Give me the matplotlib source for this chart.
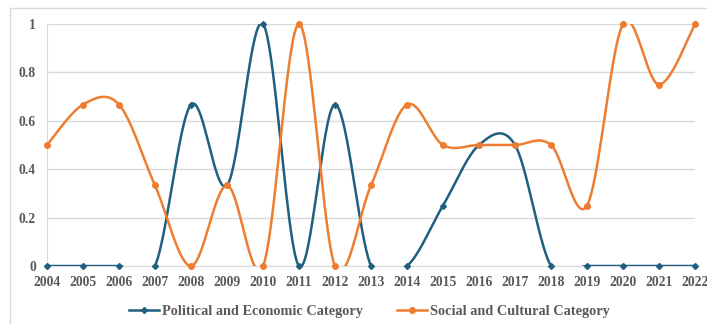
import numpy as np
import matplotlib.pyplot as plt
from matplotlib.patches import Rectangle

years = list(range(2004, 2023))
political_economic = [0, 0, 0, 0, 0.667, 0.333, 1, 0, 0.667, 0, 0, 0.25, 0.5, 0.5, 0, 0, 0, 0, 0]
social_cultural = [0.5, 0.667, 0.667, 0.333, 0, 0.333, 0, 1, 0, 0.333, 0.667, 0.5, 0.5, 0.5, 0.5, 0.25, 1, 0.75, 1]

blue = '#1f5f7f'
orange = '#ed7d31'
gray_text = '#595959'


def smooth(x, y, n=40):
    # cubic Bezier through the points with Catmull-Rom control points
    x = np.asarray(x, float)
    y = np.asarray(y, float)
    px = np.concatenate([[x[0]], x, [x[-1]]])
    py = np.concatenate([[y[0]], y, [y[-1]]])
    t = np.linspace(0, 1, n)[:, None]
    xs, ys = [], []
    for i in range(len(x) - 1):
        p0 = np.array([x[i], y[i]])
        p3 = np.array([x[i + 1], y[i + 1]])
        p1 = p0 + (np.array([px[i + 2], py[i + 2]]) - np.array([px[i], py[i]])) / 6
        p2 = p3 - (np.array([px[i + 3], py[i + 3]]) - np.array([px[i + 1], py[i + 1]])) / 6
        seg = ((1 - t) ** 3) * p0 + 3 * ((1 - t) ** 2) * t * p1 + 3 * (1 - t) * t ** 2 * p2 + t ** 3 * p3
        xs.append(seg[:, 0])
        ys.append(seg[:, 1])
    return np.concatenate(xs), np.concatenate(ys)


plt.rcParams['font.family'] = 'Liberation Serif'
plt.rcParams['font.weight'] = 'bold'

fig = plt.figure(figsize=(7.07, 3.24), dpi=100)
fig.patches.append(Rectangle((10 / 707, -0.1), 1.2, (316 + 32) / 324, transform=fig.transFigure,
                             facecolor='none', edgecolor='#d9d9d9', linewidth=1))
ax = fig.add_axes([47 / 707, 58 / 324, 648 / 707, 242 / 324])

for vals, col, mk, ms, label in [(political_economic, blue, 'D', 3, 'Political and Economic Category'),
                                 (social_cultural, orange, 'o', 4, 'Social and Cultural Category')]:
    sx, sy = smooth(years, vals)
    ax.plot(sx, sy, color=col, lw=1.8, zorder=3)
    ax.plot(years, vals, linestyle='none', marker=mk, ms=ms, color=col, zorder=4, clip_on=False)
    ax.plot([], [], color=col, lw=1.8, marker=mk, ms=ms, label=label)

ax.set_xlim(2004, 2022)
ax.set_ylim(0, 1)
ax.set_xticks(years)
ax.set_yticks([0, 0.2, 0.4, 0.6, 0.8, 1])
ax.set_yticklabels(['0', '0.2', '0.4', '0.6', '0.8', '1'])
ax.tick_params(length=0, labelsize=9.8, labelcolor=gray_text)
ax.tick_params(axis='y', pad=8)
ax.tick_params(axis='x', pad=7)
ax.grid(axis='y', color='#d9d9d9', lw=1)
ax.set_axisbelow(True)
for s in ['top', 'right']:
    ax.spines[s].set_visible(False)
ax.spines['left'].set_color('#d9d9d9')
ax.spines['bottom'].set_color('#d9d9d9')

leg = fig.legend(loc='center', bbox_to_anchor=(0.522, 0.04), ncol=2, frameon=False,
                 fontsize=10.3, columnspacing=2.4, handlelength=2.1, handletextpad=0.2)
for t in leg.get_texts():
    t.set_color(gray_text)

fig.savefig('out.png', dpi=100)
